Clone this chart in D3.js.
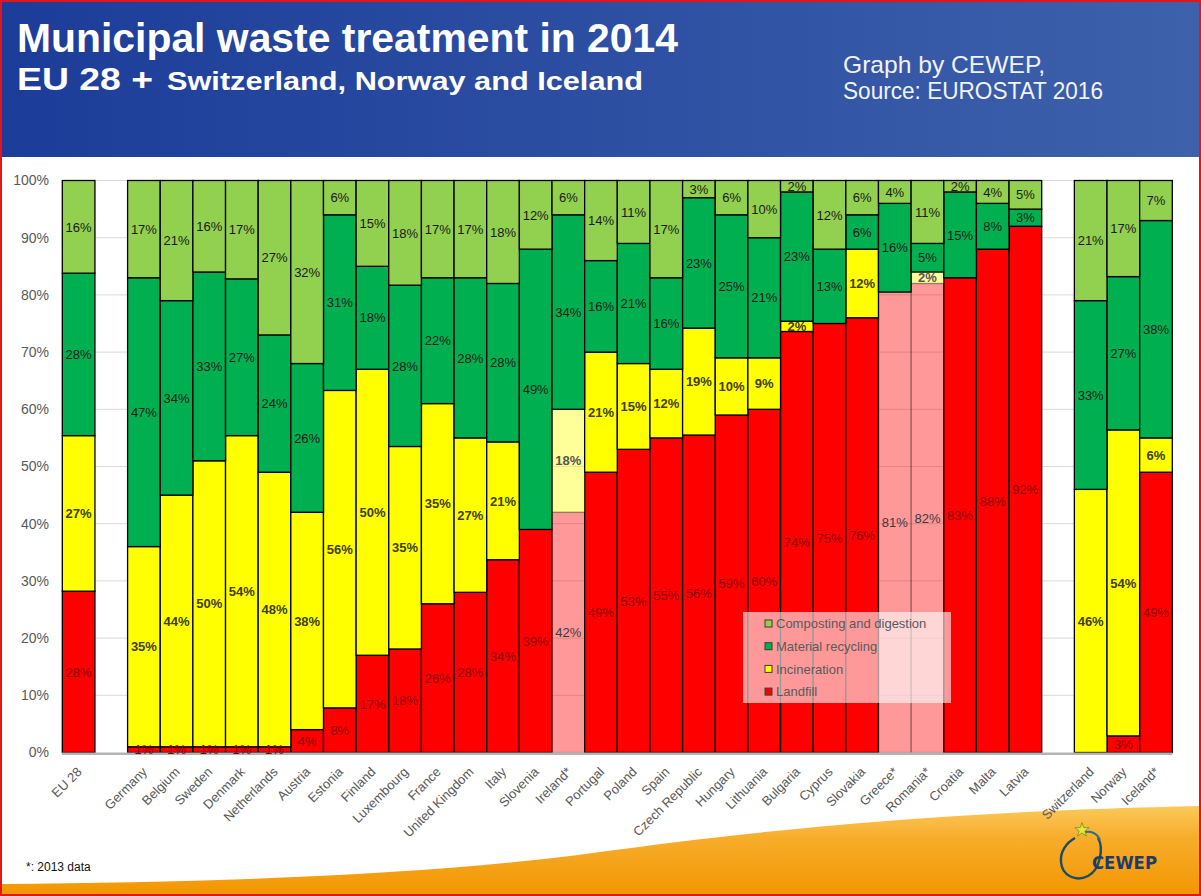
<!DOCTYPE html>
<html>
<head>
<meta charset="utf-8">
<script src="https://cdn.jsdelivr.net/npm/d3@7/dist/d3.min.js"></script>
<style>
  html, body { margin: 0; padding: 0; background: #fff; }
  svg { display: block; }
</style>
</head>
<body>
<svg id="chart" width="1201" height="896"></svg>
<script>
// ---------------- DATA ----------------
const categories = ["EU 28","Germany","Belgium","Sweden","Denmark","Netherlands","Austria","Estonia","Finland","Luxembourg","France","United Kingdom","Italy","Slovenia","Ireland*","Portugal","Poland","Spain","Czech Republic","Hungary","Lithuania","Bulgaria","Cyprus","Slovakia","Greece*","Romania*","Croatia","Malta","Latvia","Switzerland","Norway","Iceland*"];
// gaps (empty slots) appear after these categories
const gapAfter = ["EU 28","Latvia"];
const landfill     = [28.2,1,1,1,1,1,4,7.8,17,18.1,26,28,33.7,39,42,49,53,55,55.5,59,60,73.6,75,76,80.5,82,83,88,92,0,2.9,49];
const incineration = [27.2,35,44,50,54.4,48,38,55.5,50,35.4,35,27,20.6,0,18,21,15,12,18.7,10,9,1.8,0,12,0,2,0,0,0,46,53.5,6];
const recycling    = [28.4,47,34,33,27.4,24,26,30.7,18,28.2,22,28,27.7,49,34,16,21,16,22.8,25,21,22.6,13,6,15.5,5,15,8,3,33,26.8,38];
const composting   = [16.2,17,21,16,17.2,27,32,6,15,18.3,17,17,18,12,6,14,11,17,3,6,10,2,12,6,4,11,2,4,5,21,16.8,7];
const seriesNames  = ["Landfill","Incineration","Material recycling","Composting and digestion"];
const seriesColors = ["#ff0000","#ffff00","#00b050","#92d050"];
const labelColors  = ["#8a0000","#404010","#1a1a1a","#1a1a1a"];
// bars with 2013 data shown faded for these series
const fadedCategories = ["Ireland*","Greece*","Romania*"];
const fadedSeries = ["Landfill","Incineration"];
const yTicks = [0,10,20,30,40,50,60,70,80,90,100];
const titleLine1 = "Municipal waste treatment in 2014";
const titleLine2a = "EU 28 +";
const titleLine2b = "Switzerland, Norway and Iceland";
const sourceLines = ["Graph by CEWEP,", "Source: EUROSTAT 2016"];
const footnote = "*: 2013 data";

// ---------------- SETUP ----------------
const svg = d3.select("#chart");
const W = 1201, H = 896;
const defs = svg.append("defs");

const hg = defs.append("linearGradient").attr("id","hdr").attr("x1","0").attr("x2","1").attr("y1","0").attr("y2","0");
hg.append("stop").attr("offset","0").attr("stop-color","#1c3c99");
hg.append("stop").attr("offset","1").attr("stop-color","#3e61ab");

const og = defs.append("linearGradient").attr("id","org").attr("x1","0").attr("x2","0").attr("y1","0").attr("y2","1");
og.append("stop").attr("offset","0").attr("stop-color","#fbc95a");
og.append("stop").attr("offset","0.35").attr("stop-color","#f7ad2c");
og.append("stop").attr("offset","1").attr("stop-color","#f29600");

// orange wave at bottom
svg.append("path")
  .attr("d","M0,884 C250,882 450,873 600,852 C760,830 950,811 1201,806 L1201,896 L0,896 Z")
  .attr("fill","url(#org)");

// header
svg.append("rect").attr("x",0).attr("y",0).attr("width",W).attr("height",157).attr("fill","url(#hdr)");

const narrow = "'Liberation Sans Narrow','Arial Narrow','Liberation Sans',Arial,sans-serif";
svg.append("text").attr("x",17).attr("y",52).attr("fill","#fff")
  .attr("font-family",narrow).attr("font-weight","bold").attr("font-size",40)
  .attr("textLength",661).attr("lengthAdjust","spacingAndGlyphs").text(titleLine1);
svg.append("text").attr("x",17).attr("y",90).attr("fill","#fff")
  .attr("font-family",narrow).attr("font-weight","bold").attr("font-size",32)
  .attr("textLength",136).attr("lengthAdjust","spacingAndGlyphs").text(titleLine2a);
svg.append("text").attr("x",167).attr("y",90).attr("fill","#fff")
  .attr("font-family",narrow).attr("font-weight","bold").attr("font-size",25)
  .attr("textLength",476).attr("lengthAdjust","spacingAndGlyphs").text(titleLine2b);
svg.append("text").attr("x",843).attr("y",73).attr("fill","#f0f3fa")
  .attr("font-family",narrow).attr("font-size",24)
  .attr("textLength",202).attr("lengthAdjust","spacingAndGlyphs").text(sourceLines[0]);
svg.append("text").attr("x",843).attr("y",99).attr("fill","#f0f3fa")
  .attr("font-family",narrow).attr("font-size",24)
  .attr("textLength",260).attr("lengthAdjust","spacingAndGlyphs").text(sourceLines[1]);

// ---------------- SCALES ----------------
const slots = [];
categories.forEach(c => { slots.push(c); if (gapAfter.includes(c)) slots.push("__gap_" + c); });
const x = d3.scaleBand().domain(slots).range([62.3, 1172.3]).padding(0);
const y = d3.scaleLinear().domain([0,100]).range([752.5, 180.5]);

// gridlines
const grid = svg.append("g");
grid.selectAll("line").data(yTicks.filter(d => d > 0)).join("line")
  .attr("x1",62).attr("x2",1172.3)
  .attr("y1",d => y(d)).attr("y2",d => y(d))
  .attr("stroke","#d9d9d9").attr("stroke-width",1);

// y-axis labels
const yAxis = d3.axisLeft(y).tickValues(yTicks).tickFormat(d => d + "%").tickSize(0).tickPadding(0);
const ya = svg.append("g").attr("transform","translate(49,0)").call(yAxis);
ya.select(".domain").remove();
ya.selectAll("text").attr("font-family","'Liberation Sans',Arial,sans-serif").attr("font-size",14).attr("fill","#595959");

// stacked data
const rows = categories.map((c,i) => ({cat:c, Landfill:landfill[i], Incineration:incineration[i], "Material recycling":recycling[i], "Composting and digestion":composting[i]}));
const stack = d3.stack().keys(seriesNames)(rows);

const barsG = svg.append("g");
stack.forEach((layer, si) => {
  const name = seriesNames[si];
  const g = barsG.append("g");
  g.selectAll("rect").data(layer.filter(d => d[1] - d[0] > 0)).join("rect")
    .attr("x", d => x(d.data.cat))
    .attr("width", x.bandwidth())
    .attr("y", d => y(d[1]))
    .attr("height", d => y(d[0]) - y(d[1]))
    .attr("fill", seriesColors[si])
    .attr("fill-opacity", d => (fadedCategories.includes(d.data.cat) && fadedSeries.includes(name)) ? 0.4 : 1)
    .attr("stroke", "#000")
    .attr("stroke-opacity", d => (fadedCategories.includes(d.data.cat) && fadedSeries.includes(name)) ? 0.25 : 1)
    .attr("stroke-width", 1.3);
});

// baseline axis
const xAxis = d3.axisBottom(x).tickSize(0).tickFormat(d => d.startsWith("__gap_") ? "" : d);
const xa = svg.append("g").attr("transform","translate(0,753.7)").call(xAxis);
xa.select(".domain").attr("stroke","#b4b4b4").attr("stroke-width",2.4).attr("d","M62,0H1172.3");
xa.selectAll(".tick text")
  .attr("font-family","'Liberation Sans',Arial,sans-serif").attr("font-size",13).attr("fill","#595959")
  .attr("text-anchor","end").attr("dy",0)
  .attr("transform","translate(4,19) rotate(-45)")
  .attr("x",0).attr("y",0);

// value labels
const labelsG = svg.append("g").attr("font-family","'Liberation Sans',Arial,sans-serif").attr("font-size",13).attr("text-anchor","middle");
stack.forEach((layer, si) => {
  const name = seriesNames[si];
  labelsG.append("g").selectAll("text").data(layer.filter(d => d[1] - d[0] > 0)).join("text")
    .attr("x", d => x(d.data.cat) + x.bandwidth()/2)
    .attr("y", d => y((d[0] + d[1]) / 2))
    .attr("dy","0.36em")
    .attr("font-weight", name === "Incineration" ? "bold" : "normal")
    .attr("fill", d => {
      if (fadedCategories.includes(d.data.cat) && fadedSeries.includes(name)) return name === "Landfill" ? "#3a3a3a" : "#555";
      return labelColors[si];
    })
    .text(d => Math.round(d[1] - d[0]) + "%");
});

// legend
const leg = svg.append("g").attr("transform","translate(743,612)");
leg.append("rect").attr("width",208).attr("height",91).attr("fill","#fff").attr("fill-opacity",0.6);
const legOrder = ["Composting and digestion","Material recycling","Incineration","Landfill"];
legOrder.forEach((n,i) => {
  const si = seriesNames.indexOf(n);
  const gy = 11.5 + i * 22.7;
  leg.append("rect").attr("x",22).attr("y",gy - 3.5).attr("width",7).attr("height",7)
    .attr("fill",seriesColors[si]).attr("stroke","#3a3a3a").attr("stroke-width",1);
  leg.append("text").attr("x",33).attr("y",gy).attr("dy","0.36em")
    .attr("font-family","'Liberation Sans',Arial,sans-serif").attr("font-size",13).attr("fill","#595959").text(n);
});

// footnote
svg.append("text").attr("x",26).attr("y",871).attr("font-family","'Liberation Sans',Arial,sans-serif")
  .attr("font-size",12).attr("fill","#111").text(footnote);

// CEWEP logo (approximation)
const logo = svg.append("g");
logo.append("path").attr("d","M1098,838 C1104,848 1100,870 1088,876 C1076,882 1062,876 1061,862 C1060,852 1066,843 1075,838")
  .attr("fill","none").attr("stroke","#1f4a63").attr("stroke-width",2.4);
logo.append("path").attr("d","M1083,833 C1090,830 1097,833 1100,840").attr("fill","none").attr("stroke","#2f6f86").attr("stroke-width",2);
const star = d3.range(10).map(k => { const r = k % 2 ? 3 : 7.5; const a = -Math.PI/2 + k*Math.PI/5; return [1082 + r*Math.cos(a), 830 + r*Math.sin(a)]; });
logo.append("path").attr("d","M" + star.join("L") + "Z").attr("fill","#e4e73a").attr("stroke","#7a8a2a").attr("stroke-width",0.8);
logo.append("text").attr("x",1092).attr("y",869).attr("font-family","'DejaVu Sans',sans-serif").attr("font-weight","bold")
  .attr("font-size",17).attr("fill","#1d3c6b").attr("textLength",65).attr("lengthAdjust","spacingAndGlyphs").text("CEWEP");

// frame
svg.append("rect").attr("x",1).attr("y",1).attr("width",W-2).attr("height",H-2).attr("fill","none").attr("stroke","#e0161b").attr("stroke-width",2);
</script>
</body>
</html>
